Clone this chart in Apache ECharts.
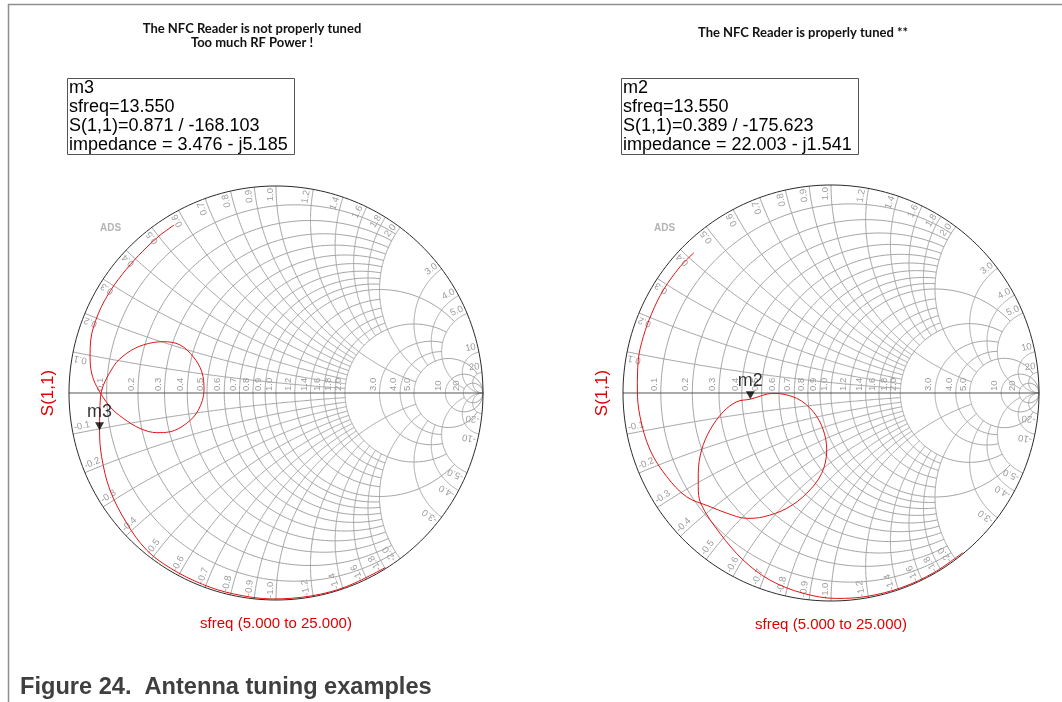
<!DOCTYPE html>
<html>
<head>
<meta charset="utf-8">
<script src="https://cdn.jsdelivr.net/npm/echarts@6/dist/echarts.min.js"></script>
<style>
  html, body { margin: 0; padding: 0; background: #fff; }
  #chart { width: 1062px; height: 702px; }
</style>
</head>
<body>
<div id="chart"></div>
<script>
// Normalised grid levels of the Smith chart and the labels printed for them
const gridLevels = [0.1, 0.2, 0.3, 0.4, 0.5, 0.6, 0.7, 0.8, 0.9, 1.0, 1.2, 1.4, 1.6, 1.8, 2.0, 3.0, 4.0, 5.0, 10, 20];
const levelLabels = ['0.1', '0.2', '0.3', '0.4', '0.5', '0.6', '0.7', '0.8', '0.9', '1.0', '1.2', '1.4', '1.6', '1.8', '2.0', '3.0', '4.0', '5.0', '10', '20'];
// How far each constant-r circle runs in |x|, and each constant-x arc runs in r
const resistanceReach = [2, 2, 2, 2, 2, 2, 2, 2, 2, 5, 2, 2, 2, 2, 5, 5, 5, 20, Infinity, Infinity];
const reactanceReach = [2, 2, 2, 2, 2, 2, 2, 2, 2, 5, 2, 2, 2, 2, 5, 5, 5, 20, Infinity, Infinity];

// S(1,1) sweeps, sfreq 5 to 25 MHz: magnitude and phase (deg)
const detunedMag = [0.995, 0.995, 0.995, 0.995, 0.992, 0.990, 0.988, 0.983, 0.957, 0.929, 0.897, 0.871,
  0.848, 0.796, 0.746, 0.682, 0.598, 0.519, 0.436, 0.373, 0.348, 0.384, 0.455, 0.545, 0.607, 0.679,
  0.748, 0.805, 0.867, 0.896, 0.915, 0.931, 0.940, 0.940, 0.938, 0.940, 0.946, 0.949];
const detunedAng = [-58, -70, -80, -91, -102, -111, -121, -129.5, -138.9, -149.7, -159.9, -168.103,
  -178.7, 170.8, 165.1, 160.1, 155.5, 153.4, 156.4, 164.0, 177.6, -167.6, -161.3, -159.9, -161.6, -165.4,
  -170.6, -175.3, 177.9, 173.8, 169.0, 164.0, 156.0, 148.2, 140.5, 133.2, 126.3, 121.2];

const tunedMag = [0.995, 0.995, 0.995, 0.993, 0.988, 0.972, 0.946, 0.907, 0.860, 0.822,
  0.781, 0.746, 0.680, 0.608, 0.526, 0.455, 0.389, 0.277, 0.167, 0.124, 0.182, 0.275, 0.389, 0.496,
  0.594, 0.678, 0.726, 0.765, 0.798, 0.855, 0.886, 0.912, 0.925, 0.931, 0.940, 0.942, 0.943, 0.946,
  0.946, 0.943];
const tunedAng = [-50.5, -60, -70, -80, -88.4, -98.0, -108.1, -117.8, -128.4, -139.5,
  -144.8, -148.8, -156.2, -163.0, -170.1, -174.7, -175.623, -179.7, -171.2, -133.4, -101.7, -94.3, -96.6, -103.6,
  -111.0, -118.6, -123.9, -131.0, -136.8, -144.3, -153.0, -162.5, -172.9, 179.1, 170.3, 163.3, 156.0, 148.4,
  140.1, 134.3];

// Markers at 13.56 MHz
const markerNames = ['m3', 'm2'];
const markerFreq = [13.550, 13.550];
const markerMag = [0.871, 0.389];
const markerAng = [-168.103, -175.623];
const markerZRe = [3.476, 22.003];
const markerZIm = [-5.185, -1.541];

const headings = ['The NFC Reader is not properly tuned\nToo much RF Power !', 'The NFC Reader is properly tuned **'];
const caption = 'Figure 24.  Antenna tuning examples';

// ---- geometry helpers (reflection-coefficient plane) ----
function gamma(r, x) {
  const den = (r + 1) * (r + 1) + x * x;
  return [(r * r - 1 + x * x) / den, (2 * x) / den];
}
function polar(mag, deg) {
  const a = deg * Math.PI / 180;
  return [mag * Math.cos(a), mag * Math.sin(a)];
}
function rCircle(r, xmax) {
  const a = Math.atan(xmax);
  const pts = [];
  const n = 260;
  for (let i = 0; i <= n; i++) pts.push(gamma(r, Math.tan(-a + 2 * a * i / n)));
  return pts;
}
function xArc(x, rmax) {
  const k = 1 + Math.abs(x);
  const b = Math.atan(rmax / k);
  const pts = [];
  const n = 200;
  for (let i = 0; i <= n; i++) pts.push(gamma(k * Math.tan(b * i / n), x));
  return pts;
}

// grid curves
const curves = [];
gridLevels.forEach((r, i) => curves.push({ pts: rCircle(r, resistanceReach[i]), kind: 'grid' }));
gridLevels.forEach((x, i) => {
  curves.push({ pts: xArc(x, reactanceReach[i]), kind: 'grid' });
  curves.push({ pts: xArc(-x, reactanceReach[i]), kind: 'grid' });
});
curves.push({ pts: [[-1, 0], [1, 0]], kind: 'axis' });
curves.push({ pts: rCircle(0, Infinity), kind: 'edge' });

const curveStyle = {
  grid: { stroke: '#a4a4a4', lineWidth: 1 },
  axis: { stroke: '#555555', lineWidth: 1 },
  edge: { stroke: '#2a2a2a', lineWidth: 1 }
};

// grid labels
const labels = [];
gridLevels.forEach((r, i) => {
  labels.push({ g: gamma(r, 0), text: levelLabels[i], rot: Math.PI / 2, align: 'left', dx: -1.5, dy: -2 });
});
gridLevels.forEach((x, i) => {
  const p = gamma(0, x);
  const t = Math.atan2(p[1], p[0]);
  labels.push({
    g: p, text: levelLabels[i], rot: t, align: 'right',
    dx: -2 * Math.cos(t) + Math.cos(t + Math.PI / 2),
    dy: 2 * Math.sin(t) - Math.sin(t + Math.PI / 2)
  });
  const q = gamma(0, -x);
  const u = Math.atan2(q[1], q[0]);
  labels.push({
    g: q, text: '-' + levelLabels[i], rot: u + Math.PI, align: 'left',
    dx: -2 * Math.cos(u) + Math.cos(u - Math.PI / 2),
    dy: 2 * Math.sin(u) - Math.sin(u - Math.PI / 2)
  });
});

function gridSeries(idx) {
  return {
    type: 'custom', xAxisIndex: idx, yAxisIndex: idx, silent: true, animation: false, z: 1,
    data: curves.map(() => [0, 0]),
    renderItem(params, api) {
      const c = curves[params.dataIndex];
      return {
        type: 'polyline',
        shape: { points: c.pts.map(p => api.coord(p)) },
        style: Object.assign({ fill: 'none' }, curveStyle[c.kind])
      };
    }
  };
}
function labelSeries(idx) {
  return {
    type: 'custom', xAxisIndex: idx, yAxisIndex: idx, silent: true, animation: false, z: 2,
    data: labels.map(() => [0, 0]),
    renderItem(params, api) {
      const l = labels[params.dataIndex];
      const p = api.coord(l.g);
      return {
        type: 'text', x: p[0] + l.dx, y: p[1] + l.dy, rotation: l.rot,
        style: {
          text: l.text, fill: '#9c9c9c', fontSize: 9.5, fontFamily: 'Liberation Sans',
          align: l.align, verticalAlign: 'bottom'
        }
      };
    }
  };
}
function traceSeries(idx, mags, angs) {
  return {
    type: 'line', xAxisIndex: idx, yAxisIndex: idx, silent: true, animation: false, z: 3,
    symbol: 'none', smooth: 0.35,
    lineStyle: { color: '#e01515', width: 1 },
    data: mags.map((m, i) => polar(m, angs[i]))
  };
}
function markerSeries(idx) {
  return {
    type: 'scatter', xAxisIndex: idx, yAxisIndex: idx, silent: true, animation: false, z: 4,
    symbol: 'triangle', symbolRotate: 180, symbolSize: [9, 8], symbolOffset: [0, -4],
    itemStyle: { color: '#000' },
    label: {
      show: true, position: 'top', distance: 1, formatter: markerNames[idx],
      color: '#000', fontSize: 18, fontFamily: 'Liberation Sans'
    },
    data: [polar(markerMag[idx], markerAng[idx])]
  };
}
function markerText(i) {
  return markerNames[i] + '\nsfreq=' + markerFreq[i].toFixed(3) +
    '\nS(1,1)=' + markerMag[i].toFixed(3) + ' / ' + markerAng[i].toFixed(3) +
    '\nimpedance = ' + markerZRe[i].toFixed(3) + ' - j' + Math.abs(markerZIm[i]).toFixed(3);
}

const grids = [
  { left: 69, top: 186, width: 414, height: 414 },
  { left: 623, top: 185, width: 416, height: 416 }
];
const axisBase = {
  type: 'value', min: -1, max: 1, nameLocation: 'middle',
  axisLine: { show: false }, axisTick: { show: false }, axisLabel: { show: false }, splitLine: { show: false }
};
const nameStyle = (size) => ({ color: '#e00000', fontSize: size, fontFamily: 'Liberation Sans' });
const headingStyle = { fontFamily: 'Lato', fontWeight: 'bold', fontSize: 13, lineHeight: 14, color: '#111' };
const boxStyle = { fontFamily: 'Liberation Sans', fontWeight: 'normal', fontSize: 18, lineHeight: 19, color: '#000' };
const adsStyle = { fontFamily: 'Liberation Sans', fontWeight: 'bold', fontSize: 10, color: '#b4b4b4' };

const option = {
  backgroundColor: '#ffffff',
  animation: false,
  grid: grids.map(g => Object.assign({ containLabel: false, outerBoundsMode: 'none' }, g)),
  xAxis: [0, 1].map(i => Object.assign({}, axisBase, {
    gridIndex: i, name: 'sfreq (5.000 to 25.000)', nameGap: 16, nameTextStyle: nameStyle(15)
  })),
  yAxis: [0, 1].map(i => Object.assign({}, axisBase, {
    gridIndex: i, name: 'S(1,1)', nameGap: 12, nameRotate: 90, nameTextStyle: nameStyle(17)
  })),
  title: [
    { text: headings[0], left: 252, top: 22, textAlign: 'center', padding: 0, textStyle: headingStyle },
    { text: headings[1], left: 803, top: 26, textAlign: 'center', padding: 0, textStyle: headingStyle },
    { text: markerText(0), left: 67, top: 78, padding: [1, 7, 0, 2], borderColor: '#555', borderWidth: 1, textStyle: boxStyle },
    { text: markerText(1), left: 621, top: 78, padding: [1, 7, 0, 2], borderColor: '#555', borderWidth: 1, textStyle: boxStyle },
    { text: 'ADS', left: 100, top: 223, padding: 0, textStyle: adsStyle },
    { text: 'ADS', left: 654, top: 223, padding: 0, textStyle: adsStyle },
    {
      text: caption, left: 20, top: 675, padding: 0,
      textStyle: { fontFamily: 'Liberation Sans', fontWeight: 'bold', fontSize: 23.6, color: '#3f3f3f' }
    }
  ],
  graphic: [
    { type: 'line', shape: { x1: 8, y1: 4.5, x2: 1062, y2: 4.5 }, style: { stroke: '#8f8f8f', lineWidth: 1.5 }, silent: true },
    { type: 'line', shape: { x1: 8.5, y1: 4, x2: 8.5, y2: 702 }, style: { stroke: '#8f8f8f', lineWidth: 1.5 }, silent: true }
  ],
  series: [
    gridSeries(0), labelSeries(0), traceSeries(0, detunedMag, detunedAng), markerSeries(0),
    gridSeries(1), labelSeries(1), traceSeries(1, tunedMag, tunedAng), markerSeries(1)
  ]
};

const chart = echarts.init(document.getElementById('chart'));
chart.setOption(option);
</script>
</body>
</html>
